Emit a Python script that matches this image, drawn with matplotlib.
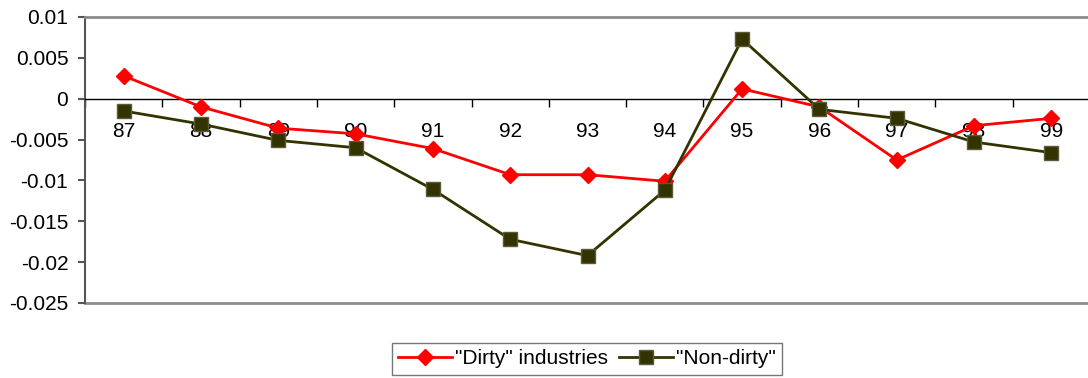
import matplotlib
matplotlib.use("Agg")
import matplotlib.pyplot as plt
from matplotlib.ticker import FixedLocator, FuncFormatter

plt.rcParams['font.family'] = ['Liberation Sans', 'DejaVu Sans']

years = ["87", "88", "89", "90", "91", "92", "93", "94", "95", "96", "97", "98", "99"]
dirty = [0.0028, -0.0010, -0.0036, -0.0043, -0.0061, -0.0093, -0.0093, -0.0101,
         0.0012, -0.0010, -0.0075, -0.0033, -0.0024]
non_dirty = [-0.0015, -0.0031, -0.0051, -0.0060, -0.0111, -0.0172, -0.0192, -0.0112,
             0.0073, -0.0013, -0.0024, -0.0053, -0.0066]
y_ticks = [0.01, 0.005, 0, -0.005, -0.01, -0.015, -0.02, -0.025]

fig = plt.figure(figsize=(10.88, 3.78), dpi=100)
ax = fig.add_axes([85 / 1088, 1 - 303 / 378, 1005 / 1088, 286 / 378])

x = list(range(len(years)))
ax.plot(x, dirty, color='#ff0000', lw=2, marker='D', ms=8.5,
        mec='#ff0000', mfc='#ff0000', label='"Dirty" industries', zorder=3)
ax.plot(x, non_dirty, color='#333300', lw=2, marker='s', ms=10.5,
        mec='#5a5a3a', mew=1, mfc='#333300', label='"Non-dirty"', zorder=4)

ax.set_xlim(-0.5, len(years) - 0.5)
ax.set_ylim(-0.025, 0.01)

# category axis drawn along zero, ticks between categories, labels at centres
ax.spines['bottom'].set_position(('data', 0))
ax.spines['bottom'].set_color('black')
ax.spines['bottom'].set_linewidth(1)
ax.xaxis.set_major_locator(FixedLocator([i - 0.5 for i in range(len(years) + 1)]))
ax.xaxis.set_major_formatter(FuncFormatter(lambda v, p: ''))
ax.xaxis.set_minor_locator(FixedLocator(x))
ax.xaxis.set_minor_formatter(FuncFormatter(lambda v, p: years[int(round(v))]))
ax.tick_params(axis='x', which='major', direction='out', length=6, width=1, color='black')
ax.tick_params(axis='x', which='minor', length=0, pad=17, labelsize=15)

ax.yaxis.set_major_locator(FixedLocator(y_ticks))
ax.yaxis.set_major_formatter(FuncFormatter(lambda v, p: '{:g}'.format(round(v, 4))))
ax.tick_params(axis='y', direction='out', length=5, width=1.5, color='#555555',
               pad=7, labelsize=15)

ax.spines['left'].set_color('#555555')
ax.spines['left'].set_linewidth(1.5)
ax.spines['top'].set_color('#8c8c8c')
ax.spines['top'].set_linewidth(2)
ax.spines['right'].set_visible(False)

# gray plot-area frame line along the bottom
ax.axhline(-0.025, color='#8c8c8c', lw=2, zorder=1, clip_on=False)

leg = fig.legend(loc='upper center', bbox_to_anchor=(587 / 1088, 1 - 343 / 378),
                 ncol=2, frameon=True, fancybox=False, fontsize=15,
                 handlelength=2.6, handletextpad=0.15, columnspacing=0.5,
                 borderpad=0.3, borderaxespad=0)
leg.get_frame().set_edgecolor('#555555')
leg.get_frame().set_linewidth(1)

fig.savefig('out.png', dpi=100)
